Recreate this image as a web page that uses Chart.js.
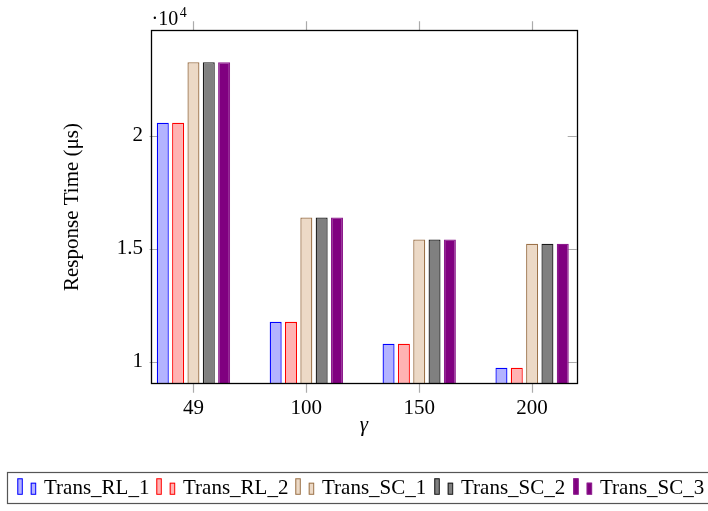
<!doctype html>
<html>
<head>
<title>Response time vs gamma</title>
<script src="https://cdn.jsdelivr.net/npm/chart.js@4.4.1/dist/chart.umd.min.js"></script>
<style>
  body { margin: 0; background: #fff; }
  #canvas-holder { width: 708px; height: 511px; }
</style>
</head>
<body>
<div id="canvas-holder">
  <canvas id="chart-area" width="708" height="511"></canvas>
</div>
<script>
// values (microseconds)
var gammas = ['49', '100', '150', '200'];
var seriesNames = ['Trans_RL_1', 'Trans_RL_2', 'Trans_SC_1', 'Trans_SC_2', 'Trans_SC_3'];
var transRL1 = [20570, 11765, 10795, 9735];
var transRL2 = [20570, 11765, 10795, 9735];
var transSC1 = [23250, 16380, 15410, 15220];
var transSC2 = [23250, 16380, 15410, 15220];
var transSC3 = [23250, 16380, 15410, 15220];
var yTickValues = [10000, 15000, 20000];

var fills = ['#b3b3ff', '#ffb3b3', '#ecd9c6', '#808080', '#800080'];
var strokes = ['#0000ff', '#ff0000', '#9c7249', '#1a1a1a', '#8c1a8c'];
var serif = '"Liberation Serif", "Times New Roman", serif';

function points(vals) {
  return vals.map(function(v, i) { return {x: i, y: v}; });
}

var allSeries = [transRL1, transRL2, transSC1, transSC2, transSC3];
var datasets = allSeries.map(function(vals, k) {
  return {
    label: seriesNames[k],
    data: points(vals),
    backgroundColor: fills[k],
    borderColor: strokes[k],
    borderWidth: 1.3,
    borderSkipped: false,
    categoryPercentage: 0.679,
    barPercentage: 0.783
  };
});

var pgfFrame = {
  id: 'pgfFrame',
  beforeDatasetsDraw: function(chart) {
    var ctx = chart.ctx, a = chart.chartArea;
    var xs = chart.scales.x, ys = chart.scales.y;
    ctx.save();
    ctx.strokeStyle = '#ababab';
    ctx.lineWidth = 1.2;
    ctx.beginPath();
    ys.ticks.forEach(function(t) {
      var y = Math.round(ys.getPixelForValue(t.value)) + 0.5;
      ctx.moveTo(a.left - 1.5, y); ctx.lineTo(a.left + 9, y);
      ctx.moveTo(a.right - 9, y); ctx.lineTo(a.right, y);
    });
    xs.ticks.forEach(function(t) {
      var x = Math.round(xs.getPixelForValue(t.value)) + 0.5;
      ctx.moveTo(x, a.bottom); ctx.lineTo(x, a.bottom + 9);
      ctx.moveTo(x, a.top - 9); ctx.lineTo(x, a.top);
    });
    ctx.stroke();
    ctx.restore();
  },
  afterDatasetsDraw: function(chart) {
    var ctx = chart.ctx, a = chart.chartArea;
    ctx.save();
    // axis box
    ctx.strokeStyle = '#000';
    ctx.lineWidth = 1.3;
    ctx.strokeRect(Math.round(a.left) + 0.5, Math.round(a.top) + 0.5,
      Math.round(a.right - a.left), Math.round(a.bottom - a.top));

    // scale label
    ctx.fillStyle = '#000';
    ctx.textBaseline = 'alphabetic';
    ctx.textAlign = 'left';
    ctx.font = '20px ' + serif;
    ctx.fillText('\u00b710', a.left + 0.5, 25);
    var w = ctx.measureText('\u00b710').width;
    ctx.font = '14px ' + serif;
    ctx.fillText('4', a.left + 2 + w, 17);

    // legend
    var boxTop = 472.5, boxBottom = 503.5, boxLeft = 7.5;
    ctx.strokeStyle = '#555';
    ctx.lineWidth = 1.2;
    ctx.strokeRect(boxLeft, boxTop, 720, boxBottom - boxTop);
    var itemX = 17.3, pitch = 139;
    ctx.font = '21px ' + serif;
    chart.data.datasets.forEach(function(ds) {
      ctx.fillStyle = ds.backgroundColor;
      ctx.strokeStyle = ds.borderColor;
      ctx.lineWidth = 1;
      ctx.fillRect(itemX, 478.3, 5, 16);
      ctx.strokeRect(itemX + 0.5, 478.8, 4.5, 15.5);
      ctx.fillRect(itemX + 13.4, 482.7, 5, 11.6);
      ctx.strokeRect(itemX + 13.9, 483.2, 4.5, 11.1);
      ctx.fillStyle = '#000';
      ctx.fillText(ds.label, itemX + 26.7, 494.3);
      itemX += pitch;
    });
    ctx.restore();
  }
};

var ctx = document.getElementById('chart-area').getContext('2d');
window.myBar = new Chart(ctx, {
  type: 'bar',
  data: { datasets: datasets },
  plugins: [pgfFrame],
  options: {
    responsive: false,
    animation: false,
    layout: { padding: { top: 30.3, right: 131.3, bottom: 0, left: 0 } },
    plugins: {
      legend: { display: false },
      tooltip: { enabled: false }
    },
    scales: {
      x: {
        type: 'linear',
        min: -0.376,
        max: 3.395,
        offset: false,
        grid: { display: false, drawTicks: false },
        border: { display: false },
        afterBuildTicks: function(s) {
          s.ticks = gammas.map(function(g, i) { return {value: i}; });
        },
        afterFit: function(s) { s.height = 127.3; },
        ticks: {
          padding: 12.5,
          color: '#000',
          maxRotation: 0,
          font: { family: serif, size: 21 },
          callback: function(v) { return gammas[v]; }
        },
        title: {
          display: true,
          text: '\u03b3',
          color: '#000',
          font: { family: serif, size: 21, style: 'italic' },
          padding: { top: 0, bottom: 73 }
        }
      },
      y: {
        type: 'linear',
        min: 9030,
        max: 24660,
        grid: { display: false, drawTicks: false },
        border: { display: false },
        afterBuildTicks: function(s) {
          s.ticks = yTickValues.map(function(v) { return {value: v}; });
        },
        afterFit: function(s) { s.width = 151; },
        ticks: {
          padding: 8,
          color: '#000',
          font: { family: serif, size: 21 },
          callback: function(v) { return String(v / 10000); }
        },
        title: {
          display: true,
          text: 'Response Time (\u03bcs)',
          color: '#000',
          font: { family: serif, size: 21 },
          padding: { top: 60, bottom: 0 }
        }
      }
    }
  }
});
</script>
</body>
</html>
